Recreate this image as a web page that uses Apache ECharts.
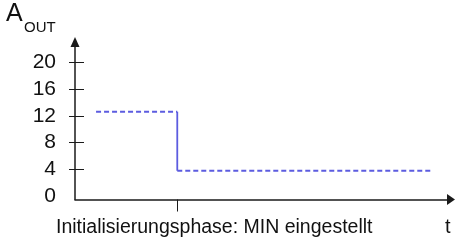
<!DOCTYPE html>
<html><head><meta charset="utf-8">
<script src="https://cdn.jsdelivr.net/npm/echarts@6/dist/echarts.min.js"></script>
<style>html,body{margin:0;padding:0;background:#fff}#c{width:455px;height:244px}</style>
</head><body><div id="c"></div>
<script>
// data
var yTickValues = [4, 8, 12, 16, 20];
var yLabelValues = [0, 4, 8, 12, 16, 20];
var xTickValues = [27.2];
var phase1 = [[5.6, 12.65], [27.2, 12.65]];   // initial level (dashed)
var stepEdge = [[27.2, 12.65], [27.2, 3.8]];  // transition (solid)
var phase2 = [[27.2, 3.8], [95.1, 3.8]];      // MIN level (dashed)
var xLabelText = 'Initialisierungsphase: MIN eingestellt';
var xName = 't';
var yNameMain = 'A';
var yNameSub = 'OUT';

var font = '"Liberation Sans", Arial, sans-serif';
var lineColor = '#5c5ce0';
var axisColor = '#1a1a1a';
var chart = echarts.init(document.getElementById('c'), null, {renderer: 'canvas'});
var yBase = {
  type: 'value', min: -0.53, max: 23.1, splitLine: {show: false}
};
chart.setOption({
  animation: false,
  grid: {left: 75, right: 4, top: 42, bottom: 44.5},
  xAxis: {
    type: 'value', min: 0, max: 100,
    splitLine: {show: false},
    axisLine: {onZero: false, lineStyle: {color: axisColor, width: 1.5}, symbol: ['none', 'triangle'], symbolSize: [11, 8]},
    axisTick: {show: true, customValues: xTickValues, length: 12, lineStyle: {color: axisColor, width: 1}},
    axisLabel: {show: false}
  },
  yAxis: [
    Object.assign({}, yBase, {
      axisLine: {show: true, lineStyle: {color: axisColor, width: 1.5}, symbol: ['none', 'triangle'], symbolSize: [9, 10]},
      axisTick: {show: true, customValues: yTickValues, length: 6, lineStyle: {color: axisColor, width: 1}},
      axisLabel: {customValues: yLabelValues, margin: 19, color: '#111', fontFamily: font, fontSize: 21}
    }),
    Object.assign({}, yBase, {
      position: 'left',
      axisLine: {show: false},
      axisTick: {show: true, inside: true, customValues: yTickValues, length: 9, lineStyle: {color: axisColor, width: 1}},
      axisLabel: {show: false}
    })
  ],
  series: [
    {type: 'line', data: phase1, symbol: 'none', lineStyle: {color: lineColor, width: 2, type: [5, 3]}},
    {type: 'line', data: stepEdge, symbol: 'none', lineStyle: {color: lineColor, width: 1.8, type: 'solid'}},
    {type: 'line', data: phase2, symbol: 'none', lineStyle: {color: lineColor, width: 2, type: [5, 3]}}
  ],
  graphic: [
    {type: 'text', left: 56, top: 218, style: {text: xLabelText, font: '19.5px ' + font, fill: '#111'}},
    {type: 'text', left: 445, top: 217, style: {text: xName, font: '20px ' + font, fill: '#111'}},
    {type: 'text', left: 6, top: 2, style: {text: yNameMain, font: '25px ' + font, fill: '#111'}},
    {type: 'text', left: 24, top: 20, style: {text: yNameSub, font: '15px ' + font, fill: '#111'}}
  ]
});
</script></body></html>
